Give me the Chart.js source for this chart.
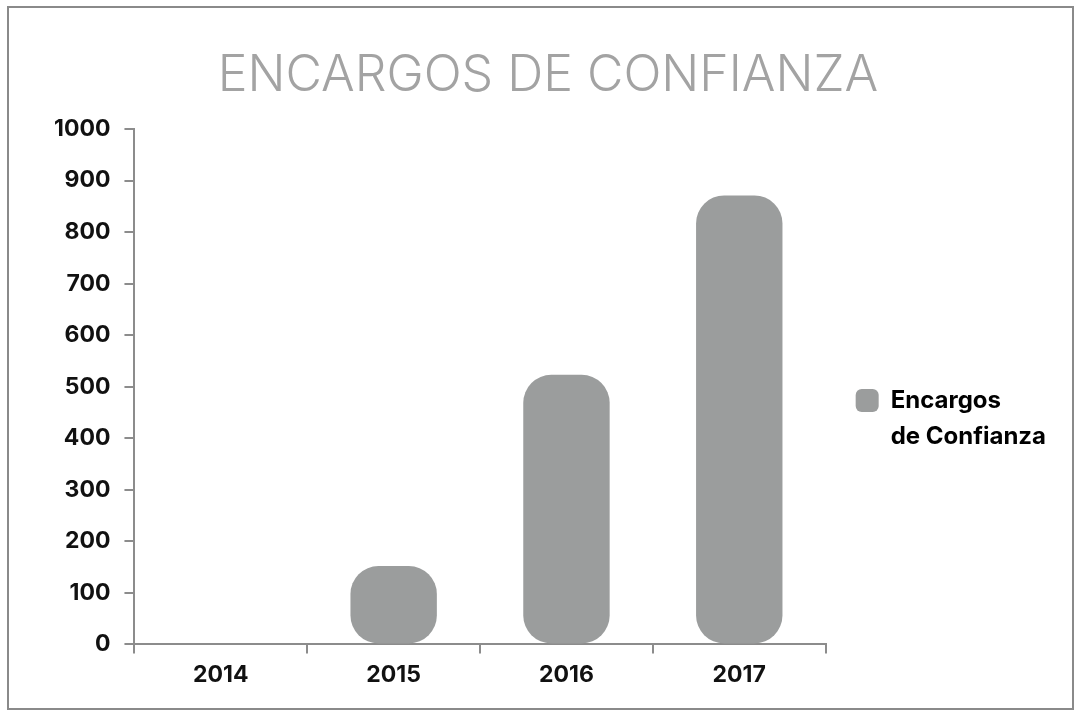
<!DOCTYPE html>
<html lang="es">
  <head>
    <meta charset="UTF-8" />
    <title>Encargos de Confianza</title>
    <script src="https://cdn.jsdelivr.net/npm/chart.js"></script>
    <style>
      body { margin: 0; background: #fff; }
      #wrap { position: relative; width: 1078px; height: 713px; }
      #frame { position: absolute; left: 7px; top: 6px; width: 1063px; height: 700px; border: 2px solid #8a8a8a; pointer-events: none; }
    </style>
  </head>
  <body>
    <div id="wrap">
      <canvas id="chart" width="1078" height="713"></canvas>
      <div id="frame"></div>
    </div>

    <script>
      // Datos
      const years = ["2014", "2015", "2016", "2017"];
      const encargos = [0, 152, 523, 871];
      const serieLabel = ["Encargos", "de Confianza"];

      const gris = "#9b9d9d";
      const eje = "#8c8c8c";
      const fuente = "'Inter', 'Open Sans', sans-serif";

      // baja un poco la leyenda (en el original queda bajo el centro)
      const bajarLeyenda = {
        id: "bajarLeyenda",
        afterLayout(chart) {
          chart.legend.top += 106;
        }
      };

      new Chart(document.getElementById("chart"), {
        type: "bar",
        data: {
          labels: years,
          datasets: [{
            label: "Encargos de Confianza",
            data: encargos,
            backgroundColor: gris,
            borderRadius: 28,
            borderSkipped: false,
            barPercentage: 0.5,
            categoryPercentage: 1
          }]
        },
        options: {
          responsive: false,
          animation: false,
          layout: { padding: { left: 40, right: 22, top: 46, bottom: 16 } },
          plugins: {
            title: {
              display: true,
              text: "ENCARGOS DE CONFIANZA",
              color: "#a3a3a3",
              font: { family: fuente, size: 50, weight: "300" },
              padding: { top: 0, bottom: 23 }
            },
            legend: {
              position: "right",
              align: "center",
              labels: {
                color: "#111",
                font: { family: fuente, size: 24, weight: "bold", lineHeight: 1.5 },
                boxWidth: 23,
                boxHeight: 23,
                useBorderRadius: true,
                borderRadius: 6,
                padding: 30,
                generateLabels: () => [{
                  text: serieLabel,
                  fillStyle: gris,
                  strokeStyle: gris,
                  lineWidth: 0,
                  borderRadius: 6,
                  datasetIndex: 0
                }]
              }
            },
            tooltip: { enabled: false }
          },
          scales: {
            x: {
              grid: { display: true, drawOnChartArea: false, color: eje, tickLength: 9, lineWidth: 2 },
              border: { color: eje, width: 2 },
              ticks: { color: "#111", font: { family: fuente, size: 23, weight: "bold" }, padding: 8 }
            },
            y: {
              min: 0,
              max: 1000,
              grid: { display: true, drawOnChartArea: false, color: eje, tickLength: 10, lineWidth: 2 },
              border: { color: eje, width: 2 },
              ticks: {
                stepSize: 100,
                color: "#111",
                font: { family: fuente, size: 23, weight: "bold" },
                padding: 14,
                callback: v => String(v)
              }
            }
          }
        },
        plugins: [bajarLeyenda]
      });
    </script>
  </body>
</html>
